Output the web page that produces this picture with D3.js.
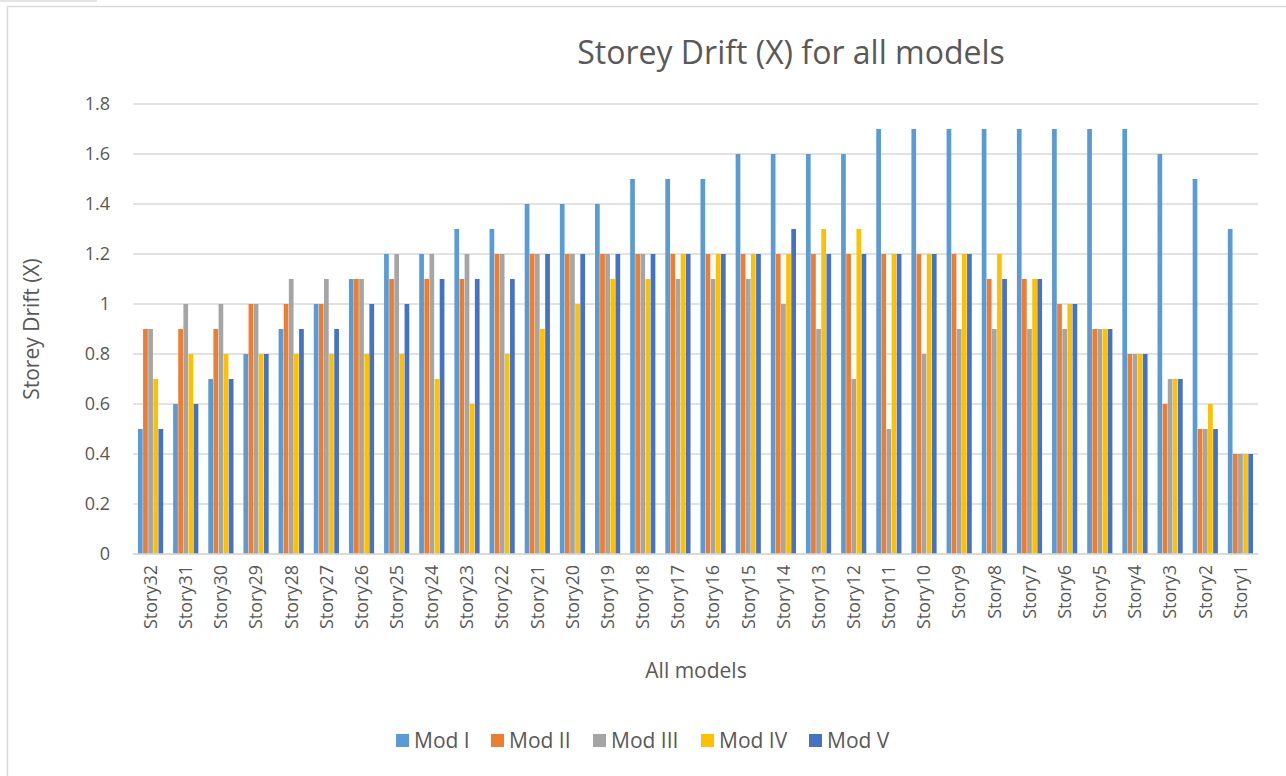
<!DOCTYPE html>
<html>
<head>
<meta charset="utf-8">
<script src="https://cdn.jsdelivr.net/npm/d3@7"></script>
<style>
  body { margin: 0; background: #fff; }
  text { font-family: "Open Sans", "Noto Sans", sans-serif; fill: #595959; }
</style>
</head>
<body>
<svg id="chart" width="1286" height="776"></svg>
<script>
// categories (top storey first, as in the picture)
const stories = ["Story32","Story31","Story30","Story29","Story28","Story27","Story26","Story25",
  "Story24","Story23","Story22","Story21","Story20","Story19","Story18","Story17","Story16",
  "Story15","Story14","Story13","Story12","Story11","Story10","Story9","Story8","Story7",
  "Story6","Story5","Story4","Story3","Story2","Story1"];

const seriesNames = ["Mod I", "Mod II", "Mod III", "Mod IV", "Mod V"];
const seriesColors = ["#5B9BD5", "#ED7D31", "#A5A5A5", "#FFC000", "#4472C4"];

const modI   = [0.5,0.6,0.7,0.8,0.9,1.0,1.1,1.2,1.2,1.3,1.3,1.4,1.4,1.4,1.5,1.5,1.5,1.6,1.6,1.6,1.6,1.7,1.7,1.7,1.7,1.7,1.7,1.7,1.7,1.6,1.5,1.3];
const modII  = [0.9,0.9,0.9,1.0,1.0,1.0,1.1,1.1,1.1,1.1,1.2,1.2,1.2,1.2,1.2,1.2,1.2,1.2,1.2,1.2,1.2,1.2,1.2,1.2,1.1,1.1,1.0,0.9,0.8,0.6,0.5,0.4];
const modIII = [0.9,1.0,1.0,1.0,1.1,1.1,1.1,1.2,1.2,1.2,1.2,1.2,1.2,1.2,1.2,1.1,1.1,1.1,1.0,0.9,0.7,0.5,0.8,0.9,0.9,0.9,0.9,0.9,0.8,0.7,0.5,0.4];
const modIV  = [0.7,0.8,0.8,0.8,0.8,0.8,0.8,0.8,0.7,0.6,0.8,0.9,1.0,1.1,1.1,1.2,1.2,1.2,1.2,1.3,1.3,1.2,1.2,1.2,1.2,1.1,1.0,0.9,0.8,0.7,0.6,0.4];
const modV   = [0.5,0.6,0.7,0.8,0.9,0.9,1.0,1.0,1.1,1.1,1.1,1.2,1.2,1.2,1.2,1.2,1.2,1.2,1.3,1.2,1.2,1.2,1.2,1.2,1.1,1.1,1.0,0.9,0.8,0.7,0.5,0.4];

const yTicks = [0, 0.2, 0.4, 0.6, 0.8, 1, 1.2, 1.4, 1.6, 1.8];

const allSeries = [modI, modII, modIII, modIV, modV];
const rows = stories.map((s, i) => ({ story: s, values: allSeries.map(a => a[i]) }));

const svg = d3.select("#chart");
const margin = { top: 104, right: 28, bottom: 222, left: 133 };
const W = 1286, H = 776;

// outer frame like the copied excel chart
svg.append("rect").attr("x", 7.5).attr("y", 6.5).attr("width", 1300).attr("height", 800)
  .attr("fill", "none").attr("stroke", "#d9d9d9").attr("stroke-width", 1.5);
svg.append("line").attr("x1", 0).attr("x2", 97).attr("y1", 1).attr("y2", 1)
  .attr("stroke", "#e3e3e3").attr("stroke-width", 2);

const x0 = d3.scaleBand().domain(stories)
  .range([margin.left, W - margin.right]).paddingInner(0.26).paddingOuter(0.13);
const x1 = d3.scaleBand().domain(d3.range(seriesNames.length))
  .range([0, x0.bandwidth()]).padding(0.08);
const y = d3.scaleLinear().domain([0, 1.8]).range([H - margin.bottom, margin.top]);

// gridlines
svg.append("g").selectAll("line").data(yTicks).join("line")
  .attr("x1", margin.left).attr("x2", W - margin.right)
  .attr("y1", d => y(d)).attr("y2", d => y(d))
  .attr("stroke", "#d9d9d9").attr("stroke-width", 1.3);

// y axis labels
svg.append("g").selectAll("text").data(yTicks).join("text")
  .attr("x", 110).attr("y", d => y(d)).attr("dy", "0.35em")
  .attr("text-anchor", "end").attr("font-size", 18)
  .text(d => d);

// bars
const groups = svg.append("g").selectAll("g").data(rows).join("g")
  .attr("transform", d => `translate(${x0(d.story)},0)`);
groups.selectAll("rect").data(d => d.values).join("rect")
  .attr("x", (d, i) => x1(i))
  .attr("y", d => y(d))
  .attr("width", x1.bandwidth())
  .attr("height", d => y(0) - y(d))
  .attr("fill", (d, i) => seriesColors[i]);

// baseline
svg.append("line").attr("x1", margin.left).attr("x2", W - margin.right)
  .attr("y1", y(0)).attr("y2", y(0)).attr("stroke", "#d9d9d9").attr("stroke-width", 1.3);

// x labels (rotated)
svg.append("g").selectAll("text").data(stories).join("text")
  .attr("transform", d => `translate(${x0(d) + x0.bandwidth() / 2},565) rotate(-90)`)
  .attr("dy", "0.35em").attr("text-anchor", "end").attr("font-size", 18)
  .text(d => d);

// title
svg.append("text").attr("x", 791).attr("y", 64).attr("text-anchor", "middle")
  .attr("font-size", 32).text("Storey Drift (X) for all models");

// axis titles
svg.append("text").attr("transform", "translate(39,329) rotate(-90)")
  .attr("text-anchor", "middle").attr("font-size", 21).text("Storey Drift (X)");
svg.append("text").attr("x", 696).attr("y", 678).attr("text-anchor", "middle")
  .attr("font-size", 21).text("All models");

// legend
const legendX = [396, 491, 593, 701, 809];
const leg = svg.append("g").selectAll("g").data(seriesNames).join("g")
  .attr("transform", (d, i) => `translate(${legendX[i]},741)`);
leg.append("rect").attr("x", 0).attr("y", -7).attr("width", 13).attr("height", 13)
  .attr("fill", (d, i) => seriesColors[i]);
leg.append("text").attr("x", 18).attr("dy", "0.35em").attr("font-size", 21).text(d => d);
</script>
</body>
</html>
